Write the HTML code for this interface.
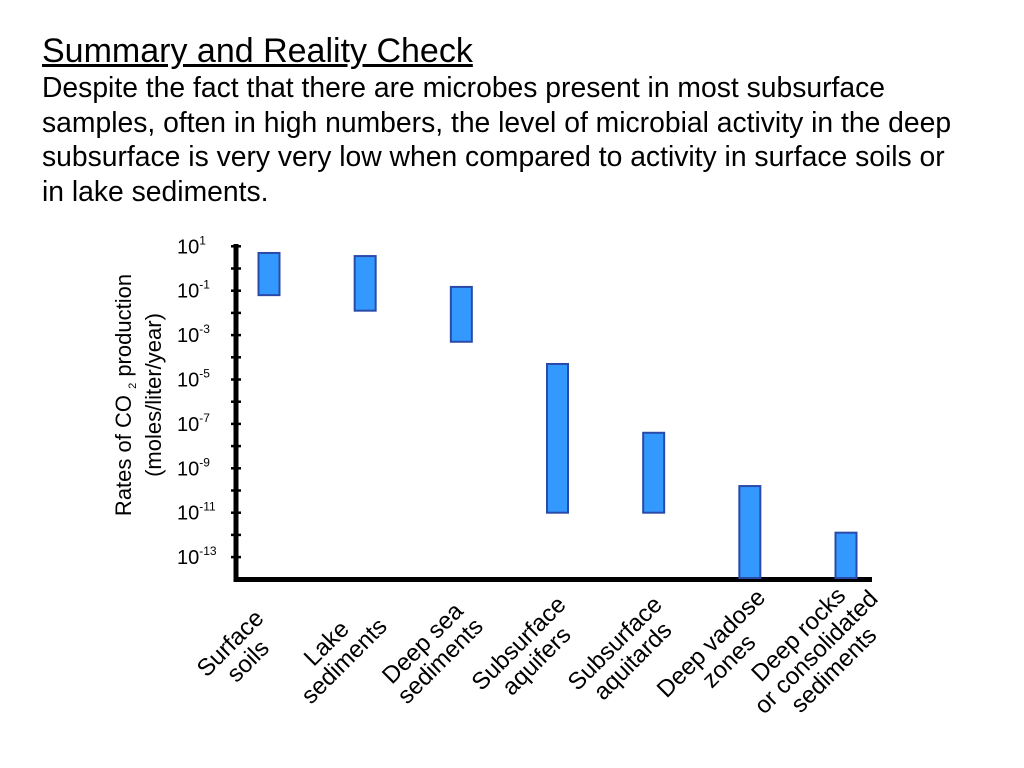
<!DOCTYPE html>
<html><head><meta charset="utf-8">
<style>
html,body{margin:0;padding:0;background:#fff;}
body{width:1024px;height:768px;position:relative;overflow:hidden;font-family:"Liberation Sans",Arial,sans-serif;}
#txt{position:absolute;left:42px;top:33px;color:#000;}
#txt .t{text-decoration:underline;font-size:34px;line-height:37px;}
#txt .p{font-size:28.3px;line-height:34.5px;}
svg{position:absolute;left:0;top:0;}
</style></head><body>
<div id="txt">
<div class="t">Summary and Reality Check</div>
<div class="p">Despite the fact that there are microbes present in most subsurface<br>samples, often in high numbers, the level of microbial activity in the deep<br>subsurface is very very low when compared to activity in surface soils or<br>in lake sediments.</div>
</div>
<svg id="chart" width="1024" height="768"></svg>
<script>
const categories = [["Surface","soils"],["Lake","sediments"],["Deep sea","sediments"],["Subsurface","aquifers"],["Subsurface","aquitards"],["Deep vadose","zones"],["Deep rocks","or consolidated","sediments"]];
const highExp = [0.7, 0.56, -0.83, -4.3, -7.4, -9.8, -11.9];
const lowExp = [-1.2, -1.9, -3.3, -11, -11, -14, -14];
const tickExps = [1, -1, -3, -5, -7, -9, -11, -13];

const NS="http://www.w3.org/2000/svg";
const svg=document.getElementById('chart');
function el(t,a,p){const e=document.createElementNS(NS,t);for(const k in a)e.setAttribute(k,a[k]);(p||svg).appendChild(e);return e;}
const yTop=246.3, perDec=22.2;
function y(e){return yTop+(1-e)*perDec;}
const x0=269, x1=846;
function x(i){return x0+i*(x1-x0)/(categories.length-1);}

const ya=el('line',{x1:236,y1:244,x2:236,y2:582,stroke:'#000','stroke-width':5});

const xa=el('line',{x1:234,y1:579.5,x2:872,y2:579.5,stroke:'#000','stroke-width':5});

for(let e=1;e>=-13;e--){
  const t=el('line',{x1:231,y1:y(e),x2:241,y2:y(e),stroke:'#000','stroke-width':2.5});
  
}
tickExps.forEach(e=>{
  const t=el('text',{x:177,y:y(e)+7,'font-size':20,fill:'#000'});
  
  t.appendChild(document.createTextNode('10'));
  const s=el('tspan',{dy:-9,'font-size':12},t);s.textContent=String(e);
});
const yt=el('text',{transform:'translate(131,395) rotate(-90)','text-anchor':'middle','font-size':22,fill:'#000'});

yt.appendChild(document.createTextNode('Rates of CO '));
const sub=el('tspan',{'font-size':11,dy:5},yt);sub.textContent='2';
const rest=el('tspan',{dy:-5},yt);rest.textContent=' production';
const yt2=el('text',{transform:'translate(161,395) rotate(-90)','text-anchor':'middle','font-size':22,fill:'#000'});

yt2.textContent='(moles/liter/year)';

categories.forEach((c,i)=>{
  const w=21, cx=x(i), yt=y(highExp[i]), yb=Math.min(y(lowExp[i]),578);
  const r=el('rect',{x:cx-w/2,y:yt,width:w,height:yb-yt,fill:'#3399ff',stroke:'#2a4aa8','stroke-width':2});
  
  const g=el('text',{transform:`translate(${cx-30},${652}) rotate(-45)`,'text-anchor':'middle','font-size':24,fill:'#000'});
  
  const n=c.length;
  c.forEach((line,j)=>{const s=el('tspan',{x:0,y:(j-(n-1)/2)*25+8},g);s.textContent=line;});
});
</script>
</body></html>
